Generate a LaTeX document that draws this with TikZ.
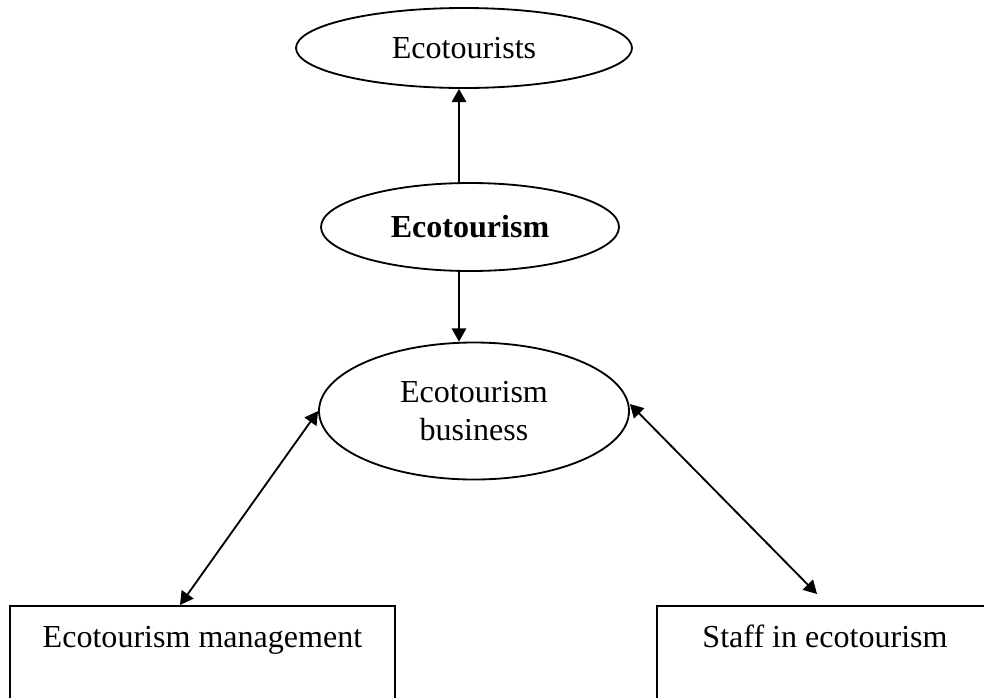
\documentclass[tikz,border=0pt]{standalone}
\usepackage{fontspec}
\setmainfont{Liberation Serif}
\usetikzlibrary{shapes.geometric}
\usetikzlibrary{arrows.meta}

\begin{document}
\begin{tikzpicture}[
        every node/.style={font=\fontsize{22.8pt}{27pt}\selectfont},
        oval/.style={draw, ellipse, line width=1.3pt, inner sep=0pt},
        boxnode/.style={draw, rectangle, line width=1.3pt, inner sep=0pt, anchor=north,
            text height=1.05cm, text depth=1.825cm},
        link/.style={line width=1.3pt, -{Triangle[length=0.33cm,width=0.36cm]}},
        twoway/.style={line width=1.3pt,
            {Triangle[length=0.33cm,width=0.36cm]}-{Triangle[length=0.33cm,width=0.36cm]}}
    ]
    \useasboundingbox (0,0) rectangle (24.6,-17.425);
    \clip (0,0) rectangle (24.6,-17.425);
    \node[oval, minimum width=8.4cm, minimum height=2cm] (tourists) at (11.6,-1.2) {Ecotourists};
    \node[oval, minimum width=7.45cm, minimum height=2.2cm] (eco) at (11.75,-5.675) {\textbf{Ecotourism}};
    \node[oval, minimum width=7.75cm, minimum height=3.425cm, align=center] (business) at (11.85,-10.275)
        {Ecotourism\\business};
    \node[boxnode, minimum width=9.625cm] (mgmt) at (5.0625,-15.125) {Ecotourism management};
    \node[boxnode, minimum width=8.4cm] (staff) at (20.625,-15.125) {Staff in ecotourism};
    \draw[link] ([xshift=-0.275cm]eco.north) -- ([xshift=-0.125cm]tourists.south);
    \draw[link] ([xshift=-0.275cm]eco.south) -- ([xshift=-0.375cm]business.north);
    \draw[twoway] (business.west) -- ([xshift=-0.5625cm]mgmt.north);
    \draw[twoway] ([yshift=0.175cm]business.east) -- ([xshift=-0.2cm,yshift=0.275cm]staff.north);
    \end{tikzpicture}
\end{document}
